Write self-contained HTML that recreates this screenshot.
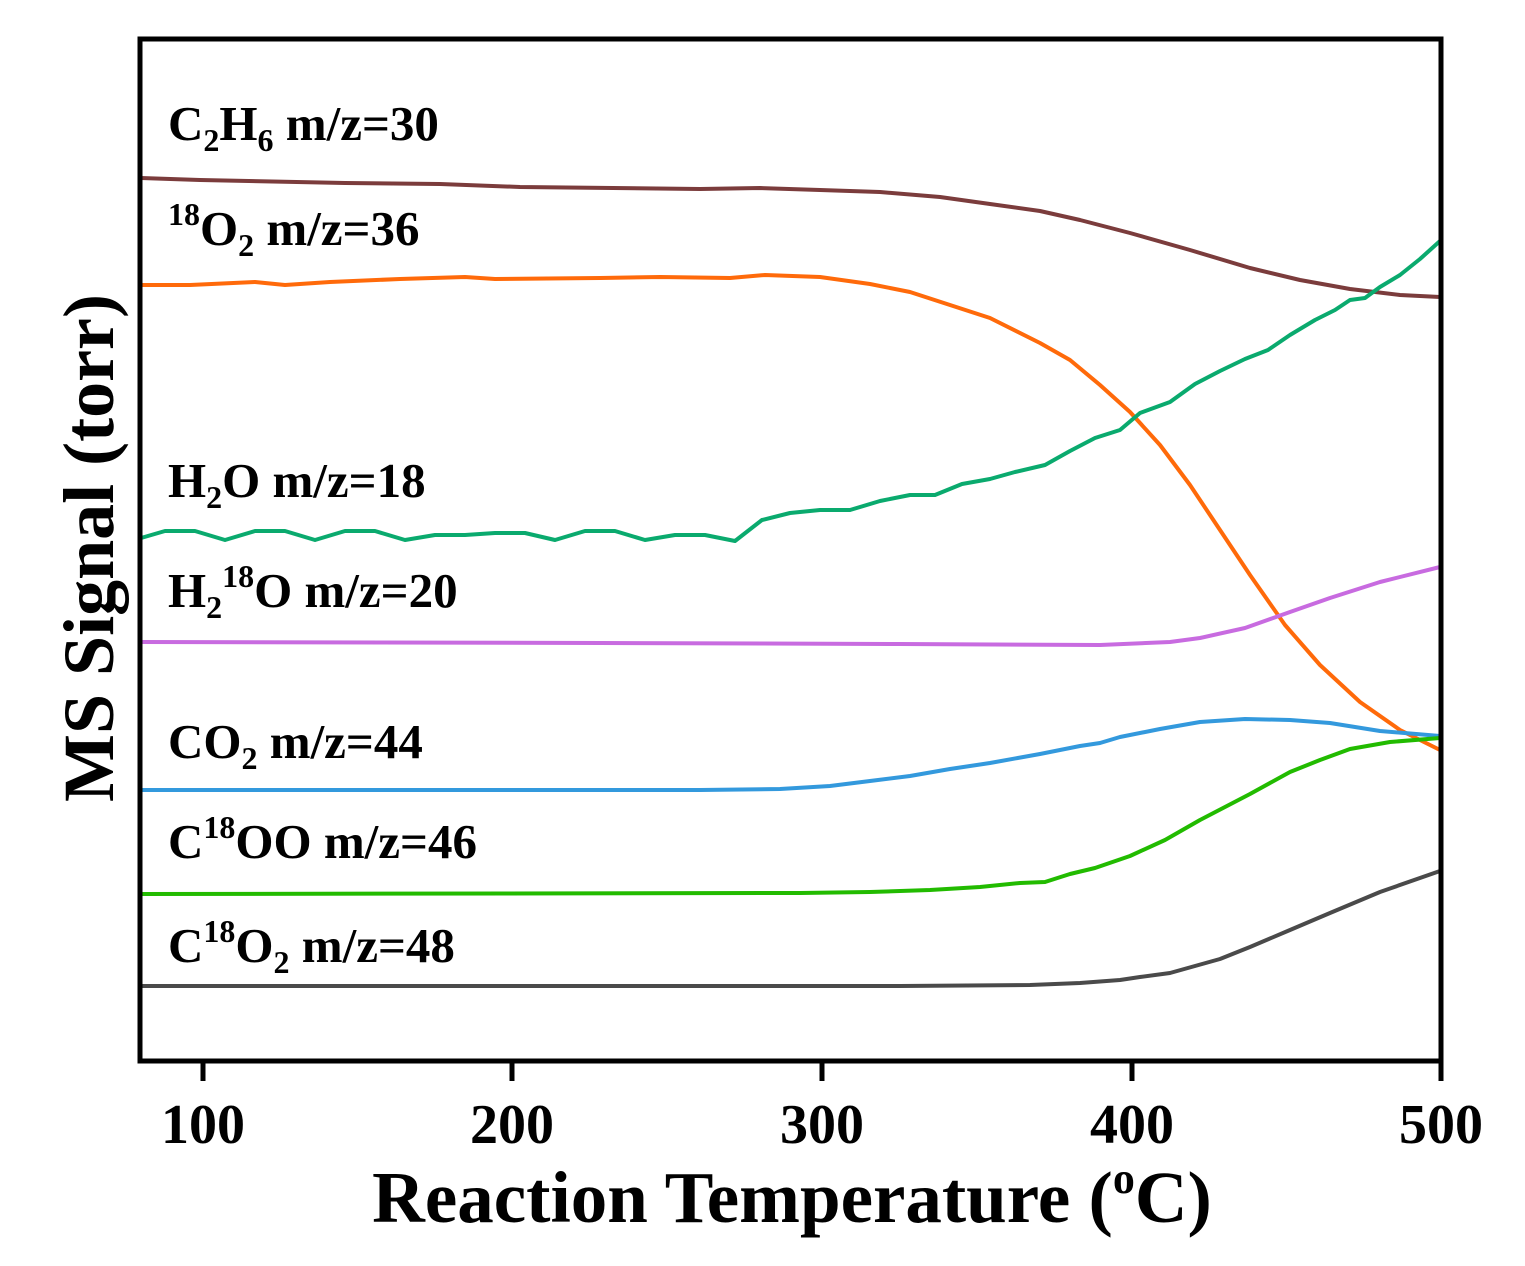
<!DOCTYPE html>
<html><head><style>
body{margin:0;background:#fff}
svg text{font-family:"Liberation Serif",serif;font-weight:bold}
</style></head><body>
<svg width="1525" height="1261" viewBox="0 0 1525 1261" xmlns="http://www.w3.org/2000/svg">
<g fill="none" stroke-width="4" stroke-linejoin="round">
<polyline stroke="#7b3c3c" points="141,178 200,180 345,183 440,184 520,187 700,189 760,188 820,190 880,192 940,197 990,204 1040,211 1080,220 1130,233 1190,250 1250,268 1300,280 1350,289 1400,295 1440,297"/>
<polyline stroke="#ff6a0a" points="141,285 190,285 255,282 285,285 330,282 400,279 465,277 495,279 600,278 660,277 730,278 765,275 820,277 870,284 910,292 950,305 990,318 1040,343 1070,360 1100,385 1130,412 1160,445 1190,485 1220,530 1250,575 1285,625 1320,665 1360,702 1400,730 1440,750"/>
<polyline stroke="#0aaa6e" points="141,538 165,531 195,531 225,540 255,531 285,531 315,540 345,531 375,531 405,540 435,535 465,535 495,533 525,533 555,540 585,531 615,531 645,540 675,535 705,535 735,541 762,520 790,513 820,510 850,510 880,501 910,495 935,495 962,484 990,479 1015,472 1045,465 1070,451 1095,438 1120,430 1140,413 1170,402 1195,384 1220,371 1245,359 1268,350 1290,335 1315,320 1335,310 1350,300 1365,298 1380,287 1400,275 1420,259 1440,241"/>
<polyline stroke="#c86be0" points="141,642 600,643 900,644 1100,645 1170,642 1200,638 1245,628 1290,612 1330,598 1380,582 1440,567"/>
<polyline stroke="#3399dd" points="141,790 700,790 780,789 830,786 870,781 910,776 950,769 990,763 1040,754 1080,746 1100,743 1120,737 1160,729 1200,722 1245,719 1290,720 1330,723 1380,731 1440,736"/>
<polyline stroke="#22bb00" points="141,894 800,893 870,892 930,890 980,887 1020,883 1045,882 1070,874 1095,868 1130,856 1165,840 1200,820 1250,794 1290,772 1320,760 1350,749 1390,742 1440,738"/>
<polyline stroke="#4a4a4a" points="141,986 900,986 1030,985 1080,983 1120,980 1140,977 1170,973 1195,966 1220,959 1250,947 1290,930 1330,913 1380,892 1440,871"/>
</g>
<rect x="140" y="39" width="1301" height="1022" fill="none" stroke="#000" stroke-width="5"/>
<g stroke="#000" stroke-width="5">
<line x1="203" y1="1061" x2="203" y2="1081"/><line x1="512" y1="1061" x2="512" y2="1081"/><line x1="822" y1="1061" x2="822" y2="1081"/><line x1="1132" y1="1061" x2="1132" y2="1081"/><line x1="1441" y1="1061" x2="1441" y2="1081"/>
</g>
<g font-size="56" text-anchor="middle">
<text x="203" y="1143">100</text><text x="512" y="1143">200</text><text x="822" y="1143">300</text><text x="1132" y="1143">400</text><text x="1441" y="1143">500</text>
</g>
<text x="792" y="1222" font-size="73" text-anchor="middle">Reaction Temperature (<tspan font-size="44" dy="-29">o</tspan><tspan dy="29">C)</tspan></text>
<text transform="translate(113,548) rotate(-90)" font-size="72" text-anchor="middle">MS Signal (torr)</text>
<g font-size="49">
<text x="168" y="140">C<tspan font-size="32" dy="11">2</tspan><tspan dy="-11">H</tspan><tspan font-size="32" dy="11">6</tspan><tspan dy="-11"> m/z=30</tspan></text>
<text x="168" y="245"><tspan font-size="32" dy="-20">18</tspan><tspan dy="20">O</tspan><tspan font-size="32" dy="11">2</tspan><tspan dy="-11"> m/z=36</tspan></text>
<text x="168" y="497">H<tspan font-size="32" dy="11">2</tspan><tspan dy="-11">O m/z=18</tspan></text>
<text x="168" y="607">H<tspan font-size="32" dy="11">2</tspan><tspan font-size="32" dy="-31">18</tspan><tspan dy="20">O m/z=20</tspan></text>
<text x="168" y="758">CO<tspan font-size="32" dy="11">2</tspan><tspan dy="-11"> m/z=44</tspan></text>
<text x="168" y="858">C<tspan font-size="32" dy="-20">18</tspan><tspan dy="20">OO m/z=46</tspan></text>
<text x="168" y="962">C<tspan font-size="32" dy="-20">18</tspan><tspan dy="20">O</tspan><tspan font-size="32" dy="11">2</tspan><tspan dy="-11"> m/z=48</tspan></text>
</g>
</svg>
</body></html>
